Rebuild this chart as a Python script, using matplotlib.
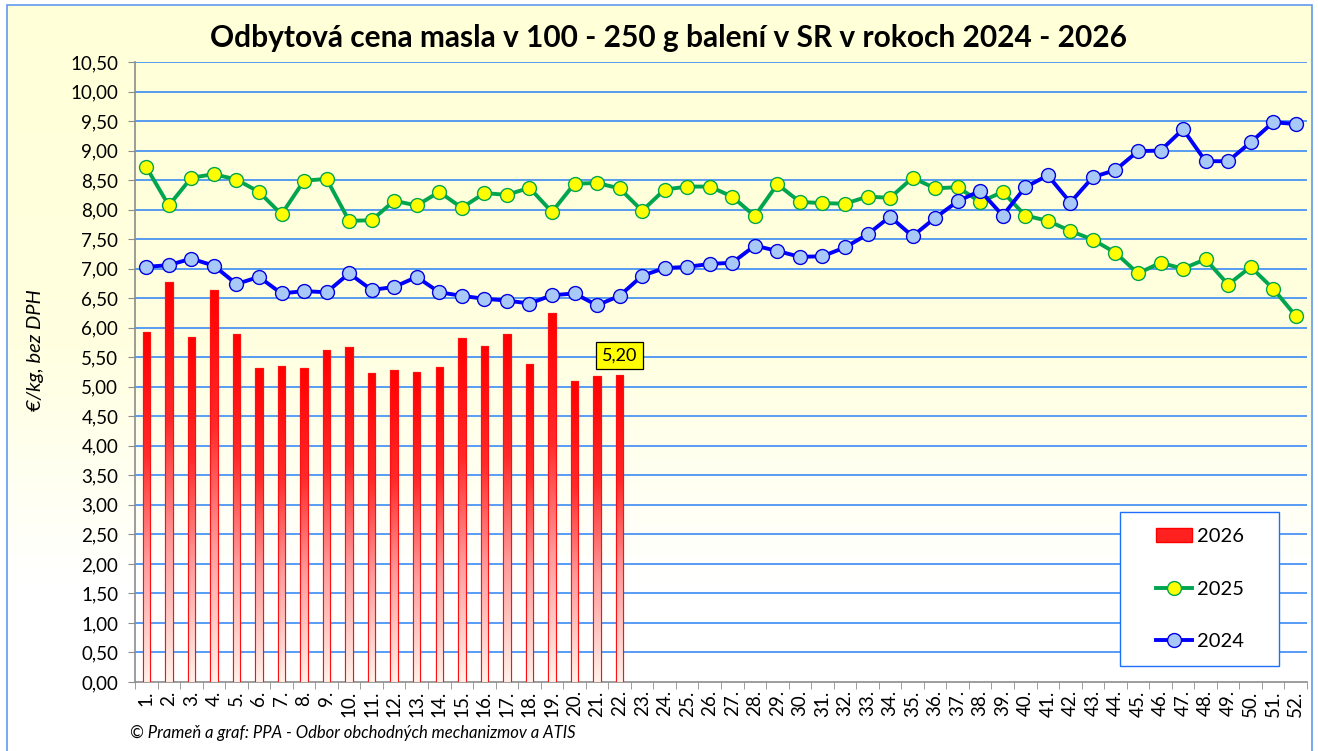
import numpy as np
import matplotlib
matplotlib.use("Agg")
import matplotlib.pyplot as plt
from matplotlib.colors import LinearSegmentedColormap
from matplotlib.patches import Rectangle, Patch
from matplotlib.lines import Line2D

plt.rcParams['font.family'] = ['Lato', 'DejaVu Sans']

weeks = [f"{i}." for i in range(1, 53)]

v2026 = [5.93, 6.77, 5.84, 6.64, 5.89, 5.32, 5.36, 5.32, 5.62, 5.67,
         5.23, 5.28, 5.25, 5.33, 5.82, 5.69, 5.89, 5.39, 6.25, 5.09,
         5.19, 5.20]

v2025 = [8.72, 8.07, 8.54, 8.60, 8.51, 8.30, 7.92, 8.49, 8.52, 7.81,
         7.82, 8.15, 8.07, 8.30, 8.03, 8.28, 8.25, 8.37, 7.96, 8.44,
         8.45, 8.36, 7.98, 8.34, 8.39, 8.39, 8.22, 7.89, 8.43, 8.13,
         8.11, 8.10, 8.22, 8.20, 8.54, 8.36, 8.38, 8.13, 8.30, 7.90,
         7.81, 7.64, 7.49, 7.27, 6.92, 7.10, 7.00, 7.16, 6.73, 7.03,
         6.66, 6.20]

v2024 = [7.03, 7.06, 7.17, 7.05, 6.74, 6.86, 6.58, 6.62, 6.60, 6.92,
         6.64, 6.69, 6.86, 6.60, 6.54, 6.49, 6.46, 6.41, 6.55, 6.58,
         6.38, 6.54, 6.88, 7.01, 7.03, 7.08, 7.10, 7.39, 7.30, 7.20,
         7.21, 7.36, 7.58, 7.88, 7.55, 7.86, 8.14, 8.32, 7.90, 8.38,
         8.58, 8.12, 8.55, 8.67, 8.99, 9.00, 9.36, 8.82, 8.82, 9.14,
         9.48, 9.45]

series_labels = ["2026", "2025", "2024"]
title = "Odbytová cena masla v 100 - 250 g balení v SR v rokoch 2024 - 2026"
ylabel = "€/kg, bez DPH"
footer = "© Prameň a graf: PPA - Odbor obchodných mechanizmov a ATIS"

W, H = 1318, 751
fig = plt.figure(figsize=(W / 100, H / 100), dpi=100, facecolor='white')

# chart background: cream at top fading to white at the bottom
bg = fig.add_axes([7 / W, 0, (1312 - 7) / W, 1 - 5 / H])
bg.set_zorder(-5)
bg_cmap = LinearSegmentedColormap.from_list('bg', [(0.0, '#FFFFFF'), (0.22, '#FFFFFF'),
                                                   (0.38, '#FFFFF0'), (0.55, '#FFFFE0'),
                                                   (1.0, '#FFFFD8')])
bg.imshow(np.linspace(0, 1, 512).reshape(-1, 1), origin='lower', cmap=bg_cmap,
          aspect='auto', extent=[0, 1, 0, 1], interpolation='bilinear')
bg.set_xlim(0, 1)
bg.set_ylim(0, 1)
bg.axis('off')
fig.patches.append(Rectangle((7 / W, -0.01), (1312 - 7) / W, 1 - 5 / H + 0.01,
                             transform=fig.transFigure, facecolor='none',
                             edgecolor='#5F9BF0', linewidth=1.2, zorder=20))

ax = fig.add_axes([135 / W, 1 - 682 / H, (1307 - 135) / W, (682 - 62) / H])
ax.set_zorder(1)
ax.set_facecolor('none')

x = np.arange(1, 53)

# grid
ax.set_ylim(0, 10.5)
ax.set_xlim(0.5, 52.5)
yt = np.arange(0, 10.51, 0.5)
ax.set_yticks(yt)
ax.set_yticklabels([f"{v:.2f}".replace('.', ',') for v in yt], fontsize=13.5)
for v in yt[1:]:
    ax.axhline(v, color='#3B8BF5', lw=1.2, zorder=1)

# bars with gradient
xb = x[:len(v2026)]
bars = ax.bar(xb, v2026, width=0.33, color='#FF0000', edgecolor='#FF1010',
              linewidth=0.8, zorder=3)
cmap = LinearSegmentedColormap.from_list('g', [(0.0, '#FFF2EA'), (0.35, '#FF9A9A'),
                                               (0.65, '#FF2A2A'), (1.0, '#FF0000')])
grad = np.linspace(0, 1, 256).reshape(-1, 1)
for b in bars:
    x0, y0, w, h = b.get_x(), b.get_y(), b.get_width(), b.get_height()
    im = ax.imshow(grad, extent=[x0, x0 + w, y0, y0 + h], origin='lower',
                   cmap=cmap, aspect='auto', zorder=3.1, interpolation='bilinear')
    im.set_clip_path(b)
    ax.add_patch(Rectangle((x0, y0), w, h, facecolor='none', edgecolor='#FF1010',
                           lw=0.8, zorder=3.2))

ax.set_xlim(0.5, 52.5)
ax.set_ylim(0, 10.5)
ax.set_aspect('auto')

# lines
ax.plot(x, v2025, color='#00A550', lw=2.8, marker='o', markersize=10,
        markerfacecolor='#FFFF00', markeredgecolor='#00A550', markeredgewidth=1.0, zorder=4)
ax.plot(x, v2024, color='#0000FF', lw=2.8, marker='o', markersize=10,
        markerfacecolor='#A8C8F8', markeredgecolor='#0000E0', markeredgewidth=1.0, zorder=5)

# data label
ax.annotate(f"{v2026[-1]:.2f}".replace('.', ','), xy=(xb[-1], v2026[-1]),
            xytext=(0, 8), textcoords='offset points', ha='center', va='bottom',
            fontsize=13, zorder=6,
            bbox=dict(boxstyle='square,pad=0.3', facecolor='#FFFF00', edgecolor='black', lw=0.9))

# axes styling
for s in ['top', 'right']:
    ax.spines[s].set_visible(False)
for s in ['left', 'bottom']:
    ax.spines[s].set_color('#8C8C8C')
    ax.spines[s].set_linewidth(1.2)
ax.tick_params(axis='y', length=5, color='#8C8C8C', pad=7)
ax.set_xticks(x)
ax.set_xticklabels(weeks, rotation=90, fontsize=13.5)
ax.tick_params(axis='x', which='major', length=0, pad=6)
ax.set_xticks(np.arange(0.5, 53, 1), minor=True)
ax.tick_params(axis='x', which='minor', length=5, color='#8C8C8C')

fig.text(35 / W, 1 - 350 / H, ylabel, ha='center', va='center', rotation=90,
         fontsize=14.5, style='italic')
fig.text(668 / W, 1 - 38 / H, title, ha='center', va='center', fontsize=21.5, fontweight='bold')
fig.text(130 / W, 1 - 733 / H, footer, ha='left', va='center', fontsize=12, style='italic')

# legend (box drawn separately, inside the axes draw order)
ax.add_artist(Rectangle((1120 / W, 1 - 666 / H), (1279 - 1120) / W, (666 - 512) / H,
                        transform=fig.transFigure, facecolor='white', clip_on=False,
                        edgecolor='#1F6FFF', linewidth=1.0, zorder=9))
handles = [Patch(facecolor='#FF2020', edgecolor='#FF0000'),
           Line2D([], [], color='#00A550', lw=2.8, marker='o', markersize=10,
                  markerfacecolor='#FFFF00', markeredgecolor='#00A550'),
           Line2D([], [], color='#0000FF', lw=2.8, marker='o', markersize=10,
                  markerfacecolor='#A8C8F8', markeredgecolor='#0000E0')]
leg = ax.legend(handles, series_labels, loc='center',
                bbox_to_anchor=(1200 / W, 1 - 589 / H), bbox_transform=fig.transFigure,
                fontsize=14.5, frameon=False, labelspacing=1.75,
                borderpad=0, handlelength=1.8, handletextpad=0.25, borderaxespad=0)
leg.set_zorder(10)

fig.savefig('out.png', dpi=100, facecolor='white')
